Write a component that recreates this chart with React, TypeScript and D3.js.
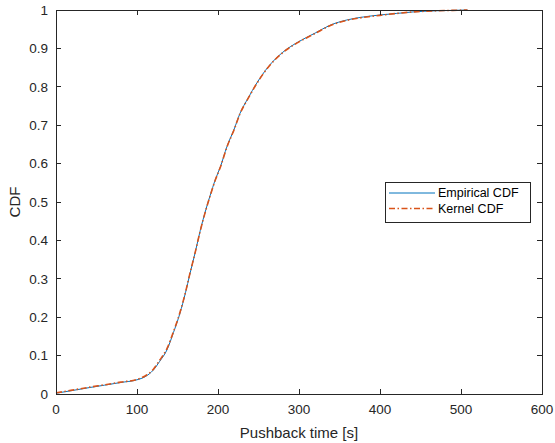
import * as d3 from "d3";
import React, { useEffect, useRef } from "react";

// pushback time [s] and CDF values
const empX = [0, 20, 42, 60, 80, 100, 110, 120, 128, 137, 145, 153, 160, 165, 172, 178, 185, 190, 197, 203, 211, 220, 227, 237, 248, 262, 280, 300, 320, 338, 359, 380, 400, 420, 441, 470, 490, 508];
const empY = [0.002, 0.009, 0.017, 0.023, 0.03, 0.037, 0.045, 0.062, 0.085, 0.115, 0.16, 0.21, 0.265, 0.31, 0.37, 0.425, 0.48, 0.515, 0.56, 0.592, 0.644, 0.69, 0.73, 0.77, 0.81, 0.852, 0.89, 0.918, 0.94, 0.96, 0.974, 0.982, 0.987, 0.991, 0.995, 0.998, 0.999, 1.0];

const kerX = [0, 20, 42, 60, 80, 100, 110, 120, 128, 137, 145, 153, 160, 165, 172, 178, 185, 190, 197, 203, 211, 220, 227, 237, 248, 262, 280, 300, 320, 338, 359, 380, 400, 420, 441, 470, 490, 508];
const kerY = [0.003, 0.01, 0.018, 0.024, 0.031, 0.038, 0.047, 0.064, 0.088, 0.118, 0.162, 0.212, 0.266, 0.311, 0.37, 0.424, 0.479, 0.514, 0.559, 0.591, 0.643, 0.689, 0.729, 0.769, 0.809, 0.851, 0.889, 0.917, 0.939, 0.959, 0.973, 0.981, 0.986, 0.991, 0.995, 0.998, 0.999, 1.0];

const xTicks = [0, 100, 200, 300, 400, 500, 600];
const yTicks = [0, 0.1, 0.2, 0.3, 0.4, 0.5, 0.6, 0.7, 0.8, 0.9, 1];
const seriesNames = ["Empirical CDF", "Kernel CDF"];

function Chart() {
  const ref = useRef<SVGSVGElement | null>(null);

  const width = 555;
  const height = 443;
  const left = 56, right = 542, top = 10, bottom = 394;
  const axisColor = "#262626";
  const font = "'Liberation Sans', Arial, Helvetica, sans-serif";

  useEffect(() => {
    const svg = d3.select(ref.current);
    svg.selectAll("*").remove();

    const x = d3.scaleLinear().domain([0, 600]).range([left, right]);
    const y = d3.scaleLinear().domain([0, 1]).range([bottom, top]);

    svg.append("rect").attr("width", width).attr("height", height).attr("fill", "#fff");

    const line = d3.line<[number, number]>().x(d => x(d[0])).y(d => y(d[1])).curve(d3.curveMonotoneX);

    svg.append("path")
      .datum(empX.map((v, i) => [v, empY[i]] as [number, number]))
      .attr("d", line)
      .attr("fill", "none")
      .attr("stroke", "#0072BD")
      .attr("stroke-width", 1);

    svg.append("path")
      .datum(kerX.map((v, i) => [v, kerY[i]] as [number, number]))
      .attr("d", line)
      .attr("fill", "none")
      .attr("stroke", "#D95319")
      .attr("stroke-width", 1.6)
      .attr("stroke-dasharray", "6,2.5,1.5,2.5");

    // ticks (inward, both sides)
    const tl = 5;
    const g = svg.append("g").attr("stroke", axisColor).attr("stroke-width", 1).attr("shape-rendering", "crispEdges");
    xTicks.forEach(t => {
      g.append("line").attr("x1", x(t)).attr("x2", x(t)).attr("y1", bottom).attr("y2", bottom - tl);
      g.append("line").attr("x1", x(t)).attr("x2", x(t)).attr("y1", top).attr("y2", top + tl);
    });
    yTicks.forEach(t => {
      g.append("line").attr("x1", left).attr("x2", left + tl).attr("y1", y(t)).attr("y2", y(t));
      g.append("line").attr("x1", right).attr("x2", right - tl).attr("y1", y(t)).attr("y2", y(t));
    });
    g.append("rect").attr("x", left).attr("y", top).attr("width", right - left).attr("height", bottom - top).attr("fill", "none");

    const txt = svg.append("g").attr("fill", axisColor).attr("font-family", font);
    xTicks.forEach(t => {
      txt.append("text").attr("x", x(t)).attr("y", bottom + 20).attr("text-anchor", "middle")
        .attr("font-size", 13.5).text(String(t));
    });
    yTicks.forEach(t => {
      txt.append("text").attr("x", left - 8).attr("y", y(t) + 4.8).attr("text-anchor", "end")
        .attr("font-size", 13.5).text(String(t));
    });
    txt.append("text").attr("x", (left + right) / 2).attr("y", bottom + 44).attr("text-anchor", "middle")
      .attr("font-size", 15).text("Pushback time [s]");
    txt.append("text").attr("transform", `translate(20,${y(0.5)}) rotate(-90)`).attr("text-anchor", "middle")
      .attr("font-size", 15).text("CDF");

    // legend
    const lg = svg.append("g");
    lg.append("rect").attr("x", 385.5).attr("y", 182.5).attr("width", 145).attr("height", 40)
      .attr("fill", "#fff").attr("stroke", axisColor).attr("stroke-width", 1);
    const rowY = [193, 208.5];
    const styles = [
      { c: "#0072BD", w: 1, d: null as string | null },
      { c: "#D95319", w: 1.6, d: "6,2.5,1.5,2.5" }
    ];
    seriesNames.forEach((name, i) => {
      const l = lg.append("line").attr("x1", 389).attr("x2", 435).attr("y1", rowY[i]).attr("y2", rowY[i])
        .attr("stroke", styles[i].c).attr("stroke-width", styles[i].w);
      if (styles[i].d) l.attr("stroke-dasharray", styles[i].d);
      lg.append("text").attr("x", 438).attr("y", rowY[i] + 4.4).attr("font-family", font)
        .attr("font-size", 12.5).attr("fill", "#000").text(name);
    });
  }, []);

  return (
    <svg ref={ref} width={width} height={height}
      style={{ position: "absolute", left: 0, top: 0, display: "block" }} />
  );
}

export default function App() {
  return <Chart />;
}
